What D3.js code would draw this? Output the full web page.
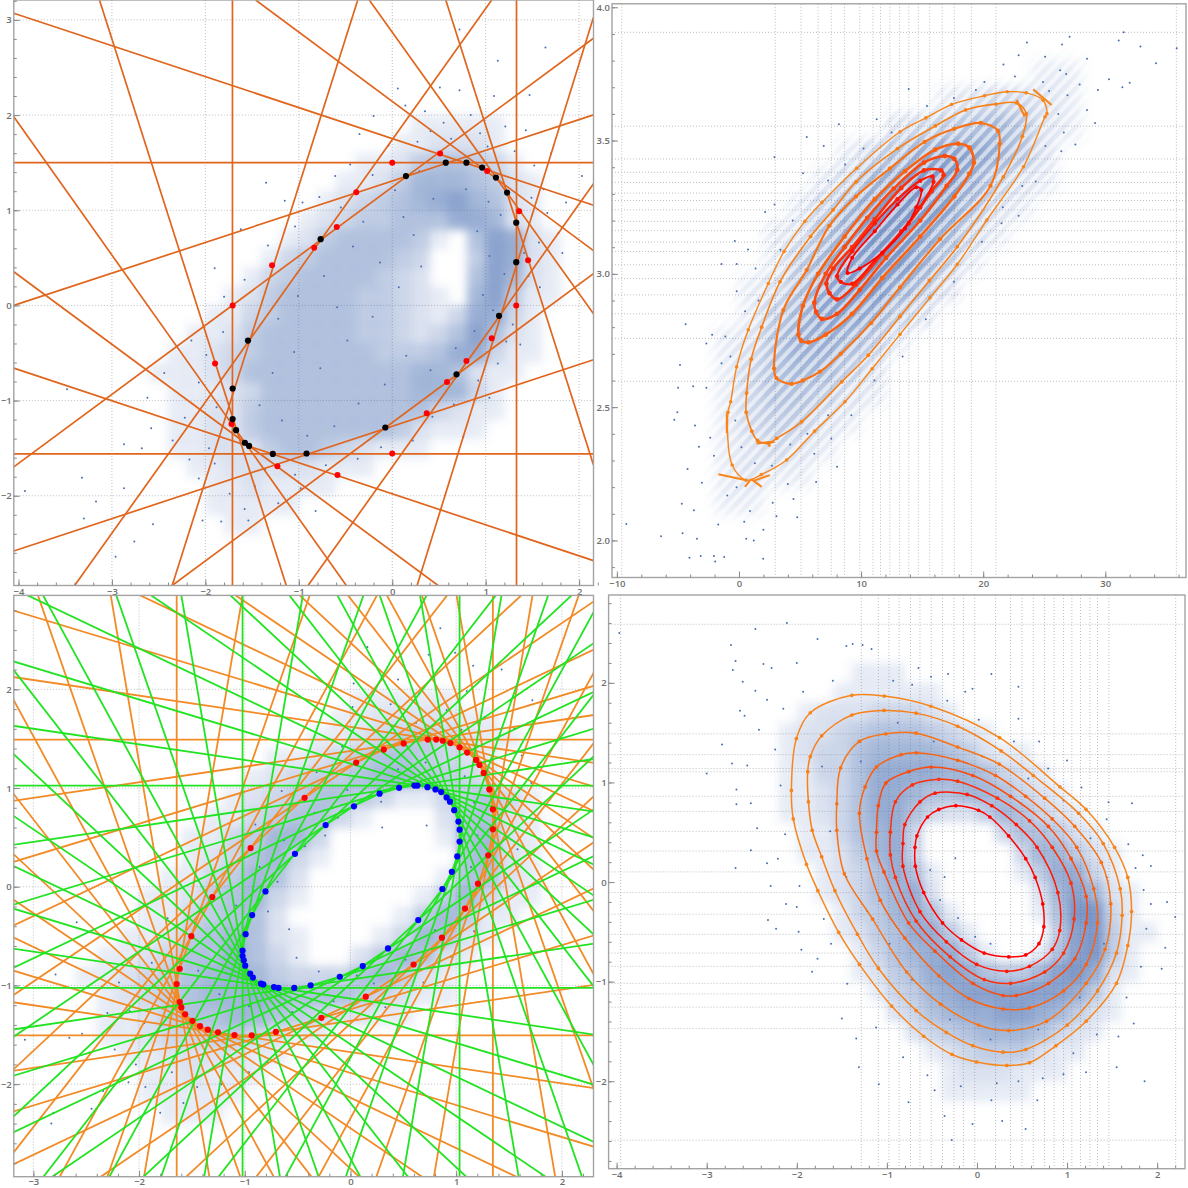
<!DOCTYPE html>
<html><head><meta charset="utf-8">
<script src="https://cdn.jsdelivr.net/npm/d3@7"></script>
<style>html,body{margin:0;padding:0;background:#fff}svg{display:block}</style>
</head><body><svg id="c" width="1188" height="1188"></svg>
<script>
// ---------- Panel 1 (top left): tangent lines, foot points, vertices ----------
const lines1 = [[-4.05,3.07,2.154,1.053],[-3.133,3.209,-1.134,-2.943],[-1.462,3.209,2.154,0.575],[-0.369,3.209,-2.355,-2.943],
[-0.246,3.209,2.154,-0.088],[0.573,3.209,2.154,-1.677],[1.065,3.209,-3.399,-2.943],[-4.05,0,2.154,2.002],[-4.05,-1.697,2.154,2.807],
[2.154,1.279,-0.901,-2.943],[2.154,0.334,-2.355,-2.943],[2.154,-0.571,-4.05,-2.581],[-4.05,-0.659,2.154,-2.682],[-4.05,0.354,0.491,-2.943],
[-4.05,1.982,-0.491,-2.943],[0.266,-2.943,2.154,3.028],[-1.71,-3,-1.71,3.3],[1.33,-3,1.33,3.3],[-4.1,1.5,2.2,1.5],[-4.1,-1.56,2.2,-1.56]];
const red1 = [[0,1.5],[0.512,1.596],[1.015,1.411],[1.359,0.989],[1.454,0.474],[1.327,0],[1.065,-0.346],[0.794,-0.583],[0.586,-0.804],[0.369,-1.134],[0,-1.556],[-0.586,-1.781],[-1.229,-1.689],[-1.72,-1.247],[-1.896,-0.611],[-1.708,0],[-1.286,0.422],[-0.835,0.607],[-0.594,0.824],[-0.385,1.19]];
const black1 = [[0.147,1.359],[0.573,1.5],[0.794,1.5],[0.962,1.448],[1.11,1.343],[1.229,1.186],[1.327,0.869],[1.327,0.454],[1.143,-0.109],[0.688,-0.724],[-0.074,-1.283],[-0.917,-1.556],[-1.278,-1.56],[-1.532,-1.476],[-1.577,-1.443],[-1.671,-1.311],[-1.708,-1.194],[-1.708,-0.873],[-1.544,-0.37],[-0.766,0.696]];
const dots1 = [[.72,2.9],[1.64,2.71],[1.13,2.57],[.51,2.29],[.72,2.26],[1.09,2.2],[1.47,2.21],[.06,2.28],[.35,2.04],[-.2,1.99],[.14,2.1],[.55,1.92],[.84,2],[1.21,1.88],[1.43,1.84],[1.7,1.6],[2.03,1.36],[1.86,1.08],[1.78,.76],[1.82,.55],[1.58,.19],[1.37,-.41],[1.13,-.61],[1.04,-.97],[.76,-1.38],[.43,-1.17],[-.82,-2.16],[-1.04,-1.78],[-1.54,-2.26],[-1.58,-2.14],[-1.74,-1.98],[-2.03,-2.26],[-2.56,-2.3],[-2.76,-2.48],[-2.96,-2.64],[-3.3,-2.24],[-3.32,-1.81],[-3.93,-1.95],[-3.17,-2.06],[-2.87,-1.92],[-2.87,-1.46],[-2.68,-1.5],[-2.58,-1.29],[-2.35,-1.42],[-2.17,-1.62],[-2.07,-1.82],[-1.9,-1.66],[-2.62,-.97],[-3.48,-.88],[-2.44,-.71],[-2.15,-.37],[-2.07,-.81],[-1.8,.09],[-1.58,.27],[-1.9,.39],[-1.62,.8],[-1.35,1.29],[-1.15,1.1],[-.96,1.08],[-.61,1.36],[-.35,1.8],[-.45,1.48],[-.04,1.68],[.27,1.72],[.41,1.83],[.63,1.75],[.94,1.81],[1.02,1.67],[1.31,1.62],[1.52,1.47],[1.62,1.22],[1.49,1.13],[1.66,.97],[1.57,.66],[1.41,.55],[1.46,.31],[1.29,-.2],[1.22,-.38],[.92,-.79],[.66,-1.04],[.22,-1.42],[-.12,-1.49],[-.37,-1.61],[-.71,-1.68],[-.98,-1.92],[-1.22,-2.08],[-1.36,-1.73],[-1.47,-1.9],[-1.83,-2.27],[-1.96,-1.5],[-2.22,-1.18],[-1.88,-1.07],[-1.99,-.52],[-1.81,-.28],[-1.33,.63],[-1.04,.83],[-.78,1.14],[-.55,1.03],[-.21,1.37],[.03,1.21],[.29,1.41],[.44,1.12],[.79,1.22],[1.03,1.09],[1.16,.95],[.91,.78],[1.04,.52],[1.2,.33],[.97,.11],[1.08,-.05],[.88,-.27],[.68,-.45],[.41,-.68],[.15,-.53],[-.08,-.83],[-.36,-1.03],[-.62,-1.27],[-.91,-1.37],[-1.18,-1.21],[-1.42,-1.05],[-1.28,-.71],[-1.05,-.49],[-.77,-.66],[-.48,-.37],[-.21,-.12],[.07,.19],[-.13,.45],[-.42,.62],[-.73,.31],[-1.01,.1],[-1.22,-.14],[-.59,-.02],[.23,.74],[.31,.41],[.12,.93],[-.31,.88]];
// ---------- Panel 2 (top right): eight contours with spurs at crossings ----------
const cont2 = [
[[-.9,2.481],[-.68,2.52],[-.19,2.651],[.76,2.79],[2.4,2.964],[3.69,3.084],[5.39,3.197],[6.79,3.268],[9.64,3.396],[13.19,3.533],[15.3,3.585],[17.4,3.635],[20.11,3.668],[21.97,3.683],[23.52,3.679],[24.91,3.651],[25.22,3.601],[25.06,3.589],[23.3,3.402],[20.3,3.202],[17.88,3.036],[15.64,2.91],[13.19,2.773],[10.9,2.644],[8.68,2.52],[6.2,2.41],[3.9,2.302],[1.83,2.247],[.59,2.226],[-.56,2.283]],
[[.63,2.553],[.59,2.481],[1.05,2.41],[1.52,2.375],[2.45,2.365],[3.09,2.383],[5.13,2.445],[8.41,2.595],[10.59,2.695],[13.19,2.84],[15.6,2.975],[17.88,3.102],[21.65,3.364],[23.21,3.516],[23.52,3.601],[22.75,3.641],[21.04,3.637],[18.56,3.615],[16.08,3.555],[12.98,3.47],[9.58,3.345],[7.72,3.24],[5.86,3.14],[3.36,2.97],[1.86,2.8],[1,2.68]],
[[2.87,2.645],[3.07,2.609],[4.31,2.587],[5.24,2.6],[6.63,2.633],[8.34,2.7],[10.81,2.815],[13.2,2.95],[16.46,3.13],[20.6,3.33],[21.35,3.488],[21.2,3.537],[19.8,3.566],[17.63,3.544],[15.2,3.495],[12.36,3.395],[9.58,3.29],[7.4,3.18],[5.54,3.014],[3.63,2.864]],
[[4.87,2.772],[5.08,2.75],[5.7,2.743],[7.1,2.772],[9.27,2.85],[11.74,2.985],[14.84,3.14],[17.63,3.29],[18.87,3.376],[19.24,3.417],[18.87,3.473],[17.94,3.488],[16.08,3.466],[13.6,3.385],[11.12,3.28],[8.65,3.14],[6.48,3.0],[5.24,2.88]],
[[6.17,2.892],[6.32,2.857],[6.79,2.831],[8.03,2.85],[9.89,2.94],[12.05,3.06],[14.84,3.2],[17.01,3.33],[17.88,3.39],[17.63,3.431],[16.86,3.442],[15.15,3.417],[12.67,3.32],[10.5,3.21],[8.65,3.1],[7.1,3.0]],
[[7.16,2.963],[7.41,2.928],[8.03,2.904],[9.58,2.96],[11.74,3.075],[13.91,3.19],[15.77,3.31],[16.76,3.37],[16.55,3.388],[15.15,3.388],[13.29,3.322],[11.12,3.205],[9.27,3.1],[7.72,3.02]],
[[8.03,2.991],[8.34,2.97],[9.27,2.963],[11.12,3.05],[13.29,3.16],[14.84,3.25],[15.93,3.345],[15.84,3.365],[14.84,3.349],[12.98,3.28],[11.12,3.19],[9.27,3.085]],
[[8.89,3.003],[9.89,3.02],[11.74,3.08],[13.6,3.17],[14.53,3.25],[14.94,3.315],[14.53,3.325],[12.98,3.26],[11.12,3.16],[9.27,3.06]]];
const spurs2 = [
[[[-1.69,2.248],[.5,2.227]],[[.49,2.201],[1,2.23]],[[1.86,2.201],[1,2.23]],[[2.54,2.245],[1.2,2.224]],[[-1,2.402],[-1,2.477]],[[24.1,3.692],[25.6,3.633]]],
[[[1.45,2.364],[2.9,2.37]],[[2.54,2.352],[2.3,2.37]],[[22.74,3.652],[23.4,3.59]]],[],[],[],[],[],[]];
const dots2 = [[35.85,3.846],[34.15,3.79],[32.88,3.853],[31.5,3.906],[31.1,3.875],[27.08,3.889],[26.46,3.86],[23.58,3.868],[27.55,3.485],[29.16,3.566],[32,3.717],[31.4,3.7],[30.3,3.73],[28.5,3.807],[26.3,3.764],[25.07,3.814],[22.9,3.82],[21.66,3.785],[20.1,3.72],[25.4,3.686],[26.9,3.67],[28.5,3.615],[26.6,3.53],[26.15,3.6],[13.9,3.693],[11.28,3.58],[8.18,3.561],[5.55,3.513],[6.94,3.48],[2.91,3.438],[5.24,3.377],[2.91,3.26],[2.14,3.232],[-.34,3.123],[.74,3.091],[-1.43,3.037],[-.19,3.037],[1.36,3.02],[-.19,2.935],[-4.37,2.811],[-2.2,2.772],[-2.67,2.739],[-1.12,2.765],[-4.83,2.658],[-4.99,2.573],[-3.75,2.578],[-2.67,2.573],[-1.43,2.665],[-5.05,2.481],[-5.3,2.453],[-3.6,2.431],[-3.28,2.351],[-2.36,2.385],[-2.05,2.318],[-4.21,2.268],[-3.04,2.216],[-4.68,2.138],[-3.69,2.113],[-6.38,2.016],[-9.23,2.062],[-4.62,2.027],[-3.44,2.006],[-4.06,1.935],[-3.13,1.942],[-2.05,1.942],[-1.21,1.938],[-1.95,1.921],[.59,2.006],[1.21,2],[1.98,1.931],[.43,2.07],[3.07,2.091],[4.77,2.087],[4.46,2.155],[2.76,2.141],[6.17,2.325],[8.03,2.276],[7.56,2.382],[6.32,2.219],[4,2.212],[-.96,2.169],[22.9,3.218],[21.5,3.19],[24.3,3.346],[27.9,3.71],[29.4,3.69],[26.8,3.75],[24.9,3.72],[22.6,3.74],[19.4,3.69],[17.6,3.66],[15.4,3.63],[12.5,3.53],[10.2,3.47],[8.7,3.41],[7.3,3.35],[4.4,3.2],[3.4,3.09],[1.6,2.9],[.5,2.86],[-.7,2.69],[-.3,2.45],[.2,2.35],[1.3,2.29],[2.7,2.28],[4.2,2.36],[5.6,2.4],[7.3,2.47],[9.2,2.47],[11.1,2.6],[13.4,2.69],[15.3,2.83],[17.6,2.97],[19.9,3.12],[21.6,3.25],[23.2,3.33],[25.1,3.48],[26.4,3.46],[-.2,2.2],[.9,2.11],[2,2.04],[-1.7,2.06]];
// ---------- Panel 3 (bottom left): outer and inner envelopes ----------
const tangentAngles3 = [0,9,18,27,36,45,54,63,72,81,90,99,108,117,126,135,144,153,162,171,180,189,198,207,216,225,234,243,252,261,270,279,288,297,306,315,324,333,342,351];
const red3 = [[.731,1.491],[.811,1.491],[.873,1.479],[.945,1.456],[1.032,1.413],[1.104,1.359],[1.188,1.285],[1.22,1.234],[1.26,1.153],[1.314,.986],[1.347,.784],[1.347,.582],[1.303,.318],[1.206,.031],[1.083,-.221],[.865,-.516],[.597,-.788],[.145,-1.114],[-.275,-1.328],[-.706,-1.471],[-.934,-1.506],[-1.097,-1.502],[-1.253,-1.475],[-1.35,-1.448],[-1.423,-1.413],[-1.495,-1.359],[-1.564,-1.293],[-1.6,-1.223],[-1.615,-1.168],[-1.644,-.986],[-1.615,-.831],[-1.506,-.501],[-1.307,-.105],[-.945,.392],[-.434,.901],[.054,1.258],[.315,1.39],[.503,1.452]];
const blue3 = [[.605,1.025],[.634,1.025],[.728,1.009],[.804,.986],[.858,.959],[.909,.905],[.941,.862],[.981,.776],[1.021,.66],[1.032,.578],[1.032,.458],[1.01,.307],[.959,.151],[.869,-.023],[.641,-.338],[.355,-.625],[.116,-.804],[-.101,-.912],[-.377,-.998],[-.532,-1.025],[-.681,-1.025],[-.724,-1.017],[-.825,-.99],[-.847,-.982],[-.923,-.92],[-.949,-.881],[-.996,-.8],[-1.01,-.745],[-1.021,-.703],[-1.021,-.648],[-.992,-.481],[-.93,-.287],[-.804,-.047],[-.525,.334],[-.235,.625],[.033,.815],[.275,.943],[.46,1.002]];
const dots3 = [[.85,2.62],[.16,2.43],[.74,2.35],[.99,2.37],[1.16,2.24],[1.43,2.2],[.03,2.06],[.3,2.13],[.45,2.1],[.65,1.96],[1.1,1.98],[1.72,1.89],[1.82,1.88],[-3.08,-1.55],[-2.66,-1.53],[-2.54,-1.49],[-2.59,-.36],[-2.79,-.89],[-2.36,-1.02],[-2.19,-.97],[-2.09,-1.26],[-2.3,-1.28],[-2.47,-1.68],[-2.23,-1.65],[-2.03,-1.8],[-2.1,-1.98],[-2.34,-2.07],[-2.45,-2.25],[-2.83,-2.4],[-2.81,-2.29],[-1.58,-2.19],[-1.8,-2.29],[-1.94,-2.03],[-1.69,-1.88],[-1.45,-2.03],[-1.22,-2],[-.96,-1.88],[-.78,-1.78],[.02,1.82],[.38,1.85],[.91,1.79],[1.27,1.72],[1.55,1.6],[1.62,1.33],[1.71,1.05],[1.63,.72],[1.58,.38],[1.46,.09],[1.36,-.17],[1.17,-.45],[.95,-.71],[.69,-.97],[.33,-1.22],[-.1,-1.37],[-.48,-1.52],[-1.95,-1.38],[-1.88,-.77],[-1.73,-.32],[-1.44,.06],[-1.23,.36],[-.9,.63],[-.65,.97],[-.32,1.16],[-.08,1.42],[.23,1.58],[.62,1.66],[1.05,1.59],[.45,1.19],[.71,1.26],[1.08,1.12],[1.17,.85],[1.2,.52],[1.14,.2],[1.03,-.1],[.8,-.44],[.52,-.74],[.22,-.98],[-.16,-1.16],[-.55,-1.27],[-.96,-1.21],[-1.24,-1.09],[-1.44,-.85],[-1.21,-.52],[-1.08,-.19],[-.86,.2],[-.63,.47],[-.34,.75],[-.03,.98],[-.78,-.25],[-.69,.05],[-.58,-.43],[-.3,-.86],[-.51,-.72],[-.43,.41],[-.24,.52],[-.12,.7],[.06,-.9],[.29,.86],[.72,.62],[.3,.6]];
// ---------- Panel 4 (bottom right): eight contours ----------
const cont4 = [
[[-2.06,.92],[-2.005,1.44],[-1.85,1.7],[-1.39,1.875],[-1.03,1.867],[-.51,1.765],[.25,1.45],[.92,.956],[1.21,.73],[1.527,.349],[1.674,.046],[1.716,-.296],[1.674,-.638],[1.548,-1.017],[1.212,-1.397],[.877,-1.643],[.583,-1.814],[.331,-1.841],[-.004,-1.806],[-.277,-1.731],[-.591,-1.548],[-.948,-1.245],[-1.305,-.827],[-1.535,-.505],[-1.766,-.087],[-1.892,.178],[-2.039,.634]],
[[-1.879,1.108],[-1.85,1.26],[-1.724,1.469],[-1.388,1.677],[-1.032,1.723],[-.675,1.696],[-.214,1.564],[.268,1.317],[.625,1.07],[1.128,.691],[1.401,.387],[1.59,-.068],[1.611,-.334],[1.548,-.713],[1.338,-1.093],[1.002,-1.435],[.541,-1.681],[.289,-1.708],[-.046,-1.643],[-.34,-1.51],[-.675,-1.29],[-1.095,-.865],[-1.326,-.524],[-1.577,-.087],[-1.724,.254],[-1.829,.52],[-1.871,.805]],
[[-1.556,.786],[-1.514,1.146],[-1.305,1.412],[-1.011,1.488],[-.675,1.495],[-.214,1.355],[.247,1.184],[.751,.842],[1.086,.558],[1.38,.197],[1.485,-.22],[1.422,-.675],[1.212,-1.017],[.772,-1.397],[.352,-1.491],[.017,-1.435],[-.403,-1.226],[-.78,-.903],[-1.158,-.372],[-1.472,.083],[-1.556,.52]],
[[-1.305,.691],[-1.242,.956],[-1.116,1.154],[-.843,1.279],[-.675,1.298],[-.214,1.222],[.206,1.07],[.541,.861],[.835,.634],[1.107,.349],[1.296,-.068],[1.338,-.41],[1.212,-.827],[.961,-1.093],[.583,-1.264],[.289,-1.275],[-.088,-1.169],[-.424,-.941],[-.801,-.562],[-1.074,-.182],[-1.221,.235]],
[[-1.116,.501],[-1.095,.767],[-1.011,.994],[-.759,1.108],[-.508,1.154],[-.046,1.07],[.373,.861],[.793,.558],[1.044,.235],[1.212,-.144],[1.212,-.41],[1.086,-.77],[.793,-1.017],[.436,-1.139],[.289,-1.139],[-.046,-1.017],[-.466,-.694],[-.759,-.41],[-1.032,.102],[-1.116,.311]],
[[-.961,.501],[-.906,.805],[-.717,.975],[-.424,1.032],[-.214,1.013],[.227,.842],[.583,.615],[.835,.349],[1.044,-.011],[1.078,-.372],[.961,-.713],[.751,-.903],[.373,-1.017],[.08,-.979],[-.298,-.751],[-.675,-.391],[-.906,.046],[-.961,.273]],
[[-.822,.387],[-.801,.577],[-.633,.805],[-.466,.892],[-.109,.88],[.164,.767],[.436,.577],[.667,.349],[.898,-.106],[.919,-.486],[.835,-.676],[.583,-.846],[.331,-.896],[-.004,-.827],[-.34,-.6],[-.633,-.296],[-.822,.159]],
[[-.688,.349],[-.667,.463],[-.549,.653],[-.424,.729],[-.235,.767],[.017,.721],[.143,.653],[.352,.463],[.541,.235],[.646,.046],[.73,-.22],[.742,-.448],[.688,-.619],[.541,-.732],[.352,-.751],[.08,-.713],[-.172,-.581],[-.382,-.41],[-.591,-.106],[-.684,.159]]];
const dots4 = [[-3.97,2.5],[-2.46,2.54],[-2.11,2.6],[-2.73,2.38],[-2.68,2.22],[-2.71,2.13],[-2.6,2.01],[-2.37,2.19],[-2.28,2.15],[-2,2.2],[-1.77,2.44],[-1.38,2.39],[-1.27,2.38],[-1.17,2.34],[-1.45,2.37],[-2.46,1.92],[-2.33,1.83],[-2.63,1.72],[-2.58,1.67],[-2.83,1.38],[-2.42,1.53],[-2.72,1.19],[-3,1.09],[-2.55,1.17],[-2.67,.93],[-2.51,.79],[-2.67,.78],[-2.44,.54],[-2.51,.32],[-2.68,.14],[-2.33,.19],[-2.21,.235],[-2.29,-.04],[-2.12,-.22],[-2.32,-.38],[-2.23,-.47],[-2,-.25],[-1.98,-.5],[-1.95,-.68],[-1.7,-.37],[-1.77,-.77],[-1.83,-.9],[-1.5,-1.37],[-1.34,-1.57],[-1.31,-1.86],[-1.09,-2.03],[-.76,-2.21],[-.47,-2.09],[-.36,-2.35],[-.28,-2.59],[-.05,-2.43],[.28,-2.4],[.54,-2.48],[.67,-2.19],[.16,-2.19],[.46,-2],[.96,-1.93],[1.21,-1.91],[1.55,-1.86],[1.86,-2],[1.57,-1.55],[1.74,-1.42],[2.05,-.87],[2.09,-.66],[2.2,-.35],[2.11,-.2],[1.93,-.22],[1.93,.16],[1.84,.27],[1.76,.14],[1.72,.79],[1.46,.8],[1,1.22],[.46,1.96],[.16,2.09],[-.05,1.94],[-.13,1.91],[-.32,2.09],[-.51,2.06],[-.65,2.15],[-.93,2.02],[.69,1.41],[.46,1.64],[-2.15,1.74],[-2.24,1.33],[-2.18,.97],[-2.13,.48],[-1.97,-.04],[-1.62,-.62],[-1.44,-1.02],[-1.12,-1.46],[-.82,-1.76],[-.55,-1.94],[-.18,-2.05],[.22,-2.02],[.73,-1.97],[1.07,-1.72],[1.33,-1.53],[1.66,-1.16],[1.82,-.85],[1.88,-.47],[1.85,-.08],[1.68,.38],[1.44,.63],[1.16,.95],[.79,1.14],[.41,1.41],[.02,1.63],[-.33,1.82],[-.72,1.98],[-1.6,2.02],[-1.93,1.91],[-.36,.05],[-.41,-.18],[-.21,-.36],[-.52,.12],[-.02,-.55],[.15,-.62],[-.24,.24],[-1.72,1.16],[-1.63,.51],[-1.45,.05],[-1.22,-.29],[-.97,-.62],[-.72,-.98],[-.3,-1.38],[.15,-1.58],[.68,-1.48],[1.14,-1.16],[1.41,-.62],[1.44,.05],[1.26,.44],[.96,.82],[.57,1.04],[.06,1.26],[-.48,1.41],[-.88,1.6],[-1.29,1.21]];
// ---------- Density, one digit per cell (0 empty .. 9 densest) ----------
const hazeRows1 = ["00000000000000111110000","00000000000001122210000","00000000000112455431000","00000000001124666542100","00000000012345678652100","00000000123445557762100","00000001245555410587210","00000013455554300487210","00000134555543200586210","00001245555443210684110","00011345555443213773100","00112455555443235852100","01123455555544457731100","11123555555555665211000","01112355555555666310000","01122455555555532110000","01122455555554211100000","01122245543211100000000","00112222211100000000000","00011211110000000000000","00011111000000000000000","00001100000000000000000"];
const hazeRows2 = ["000000000000001100","000000000012332100","000000002345652100","000000135788752000","000001368997421000","000013689985210000","000125799863100000","000146899741000000","001257997520000000","001468874200000000","012577641000000000","013566420000000000","013554210000000000","013442100000000000","012321000000000000","012110000000000000","011000000000000000"];
const hazeRows3 = ["00000000000001111100000","00000000000011222211000","00000000000112344321100","00000000011234554321000","00000000123445665432000","00000001234554311345310","00000011345531000255210","00000113466300000156210","00000123563100000056210","00001134652000000155210","00011245631000001463110","00011345520000014641100","00112456521000136521000","01123557531002465210000","11234567643335642100000","01234566765554321100000","01124556654322110000000","01123344321100000000000","00112222110000000000000","00011211100000000000000","00011111000000000000000","00001110000000000000000"];
const hazeRows4 = ["00000011100000000000000","00000111111000000000000","00012223332100000000000","00122345554321000000000","00123356666542110000000","00113357777665321000000","00112357765566532100000","00112357753224653210000","00011356730000355421000","00011246730000036642100","00001235751000014773100","00001235672000002686210","00000134675100001599310","00000124577410000489411","00000013567741001589410","00000012457875446897210","00000001346788888874100","00000000235677887642100","00000000023456665321000","00000000001234442110000","00000000000122211100000","00000000000111110000000"];
// ---------- Ticks and dotted grid ----------
const ticksInt14 = [-4,-3,-2,-1,0,1,2];
const ticksX3 = [-3,-2,-1,0,1,2];
const ticksY1 = [-2,-1,0,1,2,3];
const ticksY3 = [-2,-1,0,1,2];
const ticksX2 = [-10,0,10,20,30];
const ticksY2 = [2,2.5,3,3.5,4];
const gridX2 = [-9.6,2.97,5.08,6.48,7.56,8.65,9.89,10.97,11.59,12.36,13.14,13.91,14.69,15.62,16.64,17.63,19.03,21.04,35.82];
const gridY2 = [3.906,3.554,3.431,3.381,3.343,3.303,3.275,3.24,3.197,3.162,3.119,3.084,3.034,2.982,2.921,2.85,2.758,2.597];
const gridX4 = [-3.955,-1.284,-1.095,-.977,-.864,-.738,-.633,-.508,-.382,-.256,-.151,-.025,.206,.373,.499,.625,.751,.856,.961,1.053,1.149,1.254,1.338,1.464,2.206];
const gridY4 = [2.588,1.488,1.279,1.139,1.108,.861,.71,.509,.311,.102,-.106,-.323,-.524,-.713,-.846,-1.017,-1.123,-1.256,-1.472,-2.592];
const contourColors = ["#f7861c","#f88018","#f97315","#f96212","#fb4a0e","#fc300a","#fd1805","#ff0000"];

const svg = d3.select("#c");
const defs = svg.append("defs");
function blur(id,s){defs.append("filter").attr("id",id).attr("x","-10%").attr("y","-10%").attr("width","120%").attr("height","120%")
  .append("feGaussianBlur").attr("stdDeviation",s);}
blur("blurA",5); blur("blurB",6.5);
// Soft band texture for the banding of the cloud in panel 2
const pat = defs.append("pattern").attr("id","bands").attr("patternUnits","userSpaceOnUse").attr("width",60).attr("height",8.8)
  .attr("patternTransform","rotate(-47)");
pat.append("rect").attr("width",60).attr("height",8.8).attr("fill","#6a6a6a");
pat.append("rect").attr("width",60).attr("height",4.6).attr("fill","#ffffff");
defs.append("mask").attr("id","bandMask").attr("maskUnits","userSpaceOnUse").attr("x",0).attr("y",0).attr("width",1188).attr("height",1188)
  .append("rect").attr("width",1188).attr("height",1188).attr("fill","url(#bands)");
let pid = 0;
function panel(box, xd, yd, xt, yt, fmtY, gx, gy, minorX, minorY, padX){
  const id = "clip"+(pid++);
  defs.append("clipPath").attr("id",id).append("rect").attr("x",box.l).attr("y",box.t).attr("width",box.r-box.l).attr("height",box.b-box.t);
  const x = d3.scaleLinear().domain(xd).range([box.l,box.r]);
  const y = d3.scaleLinear().domain(yd).range([box.b,box.t]);
  const root = svg.append("g");
  const g = root.append("g").attr("clip-path",`url(#${id})`);
  const grid = g.append("g").attr("stroke","#bdbdbd").attr("stroke-width",1).attr("stroke-dasharray","1 2");
  grid.selectAll(".gx").data(gx).join("line").attr("x1",d=>x(d)).attr("x2",d=>x(d)).attr("y1",box.t).attr("y2",box.b);
  grid.selectAll(".gy").data(gy).join("line").attr("y1",d=>y(d)).attr("y2",d=>y(d)).attr("x1",box.l).attr("x2",box.r);
  const finish = ()=>{
    root.append("rect").attr("x",box.l).attr("y",box.t).attr("width",box.r-box.l).attr("height",box.b-box.t)
      .attr("fill","none").attr("stroke","#a3a3a3").attr("stroke-width",1.4);
    const style = a=>{a.select(".domain").remove();a.selectAll("line").attr("stroke","#8a8a8a");
      a.selectAll("text").attr("fill","#6e6e6e").attr("font-family","'Open Sans',sans-serif").attr("font-size",9.5).attr("font-weight",600);};
    const ax = root.append("g").attr("transform",`translate(0,${box.b})`);
    ax.append("g").call(d3.axisBottom(x).tickValues(minorX).tickSize(-3).tickFormat("")).call(style);
    ax.append("g").call(d3.axisBottom(x).tickValues(xt).tickSize(-6).tickPadding(padX).tickFormat(d3.format("d"))).call(style);
    const ay = root.append("g").attr("transform",`translate(${box.l},0)`);
    ay.append("g").call(d3.axisLeft(y).tickValues(minorY).tickSize(-3).tickFormat("")).call(style);
    ay.append("g").call(d3.axisLeft(y).tickValues(yt).tickSize(-6).tickPadding(2).tickFormat(d3.format(fmtY))).call(style);
  };
  return {g,x,y,finish};
}
function haze(p, rows, x0, dx, y0, dy, filt, mask){
  const cells = [];
  rows.forEach((r,i)=>[...r].forEach((c,j)=>{ if(+c>0) cells.push({i,j,v:+c}); }));
  const host = mask ? p.g.append("g").attr("mask",`url(#${mask})`) : p.g;
  host.append("g").attr("filter",`url(#${filt})`).selectAll("rect").data(cells).join("rect")
    .attr("x",d=>p.x(x0+(d.j-.5)*dx)).attr("y",d=>p.y(y0-(d.i-.5)*dy))
    .attr("width",d=>p.x(x0+(d.j+.5)*dx)-p.x(x0+(d.j-.5)*dx)+.5)
    .attr("height",d=>p.y(y0-(d.i+.5)*dy)-p.y(y0-(d.i-.5)*dy)+.5)
    .attr("fill","#4a6fb2").attr("fill-opacity",d=>(d.v+.8)*.072);
}
function dots(p, data, r, color){
  p.g.append("g").selectAll("circle").data(data).join("circle")
    .attr("cx",d=>p.x(d[0])).attr("cy",d=>p.y(d[1])).attr("r",r).attr("fill",color);
}
function seg(p, data, color, w){
  p.g.append("g").selectAll("line").data(data).join("line")
    .attr("x1",d=>p.x(d[0])).attr("y1",d=>p.y(d[1])).attr("x2",d=>p.x(d[2])).attr("y2",d=>p.y(d[3]))
    .attr("stroke",color).attr("stroke-width",w);
}
function tangents(vertices){
  return tangentAngles3.map(a=>{
    const t=a*Math.PI/180,c=Math.cos(t),s=Math.sin(t);
    const h=d3.max(vertices,v=>v[0]*c+v[1]*s);
    return [h*c-20*s,h*s+20*c,h*c+20*s,h*s-20*c];
  });
}
function contours(p, sets, spurs, widths){
  const ln = d3.line().x(d=>p.x(d[0])).y(d=>p.y(d[1])).curve(d3.curveCatmullRomClosed.alpha(.5));
  sets.forEach((c,i)=>{
    p.g.append("path").attr("d",ln(c)).attr("fill","none").attr("stroke",contourColors[i]).attr("stroke-width",widths[i]);
    dots(p,c,widths[i]*.5+1.1,contourColors[i]);
    if(spurs) seg(p,spurs[i].map(s=>[s[0][0],s[0][1],s[1][0],s[1][1]]),contourColors[i],widths[i]+.6);
  });
}
// Panel 1
const p1 = panel({l:13.8,r:593.5,t:0,b:585.5},[-4.05,2.154],[-2.943,3.209],ticksInt14,ticksY1,"d",ticksX3,ticksY3.concat([3]),d3.range(-4,2.21,.2),d3.range(-2.8,3.21,.2),3);
haze(p1,hazeRows1,-2.5,.2,1.9,.2,"blurA");
dots(p1,dots1,1,"#4a6fb0");
seg(p1,lines1,"#e0651d",1.7);
dots(p1,red1,3,"#ff0000");
dots(p1,black1,3.1,"#000000");
p1.finish();
// Panel 2
const p2 = panel({l:612,r:1186,t:3.8,b:577.5},[-10.4,36.61],[1.861,4.013],ticksX2,ticksY2,".1f",gridX2,gridY2,d3.range(-10,36.1,2),d3.range(1.9,4.01,.1),3);
haze(p2,hazeRows2,-3,2,3.75,.1,"blurB","bandMask");
dots(p2,dots2,1,"#4a6fb0");
contours(p2,cont2,spurs2,[1.4,1.6,2.1,2.6,2.6,2.6,2.2,1.8]);
p2.finish();
// Panel 3
const p3 = panel({l:13.8,r:593.5,t:595.4,b:1176.7},[-3.185,2.299],[-2.938,2.952],ticksX3,ticksY3,"d",ticksX3,ticksY3,d3.range(-3,2.21,.2),d3.range(-2.8,2.9,.2),2);
haze(p3,hazeRows3,-2.5,.2,1.9,.2,"blurA");
dots(p3,dots3,1,"#4a6fb0");
seg(p3,tangents(red3),"#f28a26",1.8);
seg(p3,tangents(blue3),"#22e322",1.8);
dots(p3,red3,3.1,"#ff0000");
dots(p3,blue3,3.1,"#0000ff");
p3.finish();
// Panel 4
const p4 = panel({l:608.6,r:1185,t:595,b:1168.7},[-4.089,2.309],[-2.878,2.882],ticksInt14,ticksY3,"d",gridX4,gridY4,d3.range(-4,2.31,.2),d3.range(-2.8,2.81,.2),3);
haze(p4,hazeRows4,-2.5,.2,2.1,.2,"blurA");
dots(p4,dots4,1,"#4a6fb0");
contours(p4,cont4,null,[1.5,1.5,1.5,1.5,1.5,1.5,1.5,1.5]);
p4.finish();
</script></body></html>
